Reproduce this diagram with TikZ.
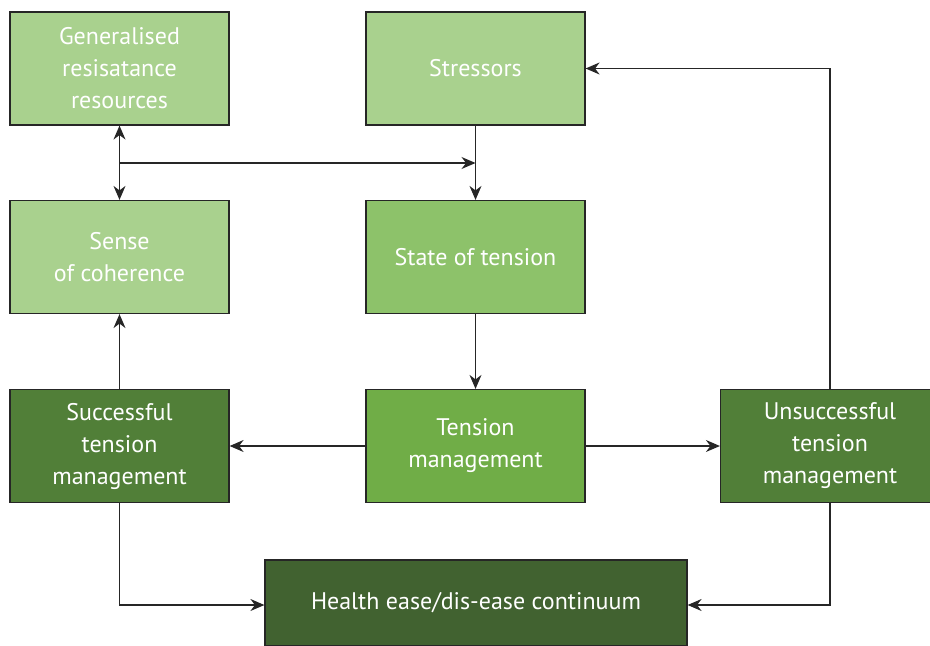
\documentclass[tikz,border=0pt]{standalone}
\usepackage{fontspec}
\setmainfont{PT Sans}
\usetikzlibrary{arrows.meta}

\definecolor{greenA}{HTML}{A9D18E}
\definecolor{greenB}{HTML}{8DC26A}
\definecolor{greenC}{HTML}{70AD47}
\definecolor{greenD}{HTML}{517F38}
\definecolor{greenE}{HTML}{416230}
\definecolor{edge}{HTML}{262626}

\tikzset{
  box/.style={draw=edge, line width=0.6pt, text=white, align=center,
    minimum width=109.5pt, minimum height=56.5pt, inner sep=2pt,
    font=\fontsize{12}{16}\selectfont},
  tip/.style={Stealth[length=7pt,width=6pt]},
  link/.style={draw=edge, line width=0.6pt, -{Stealth[length=7pt,width=6pt]}},
}

\begin{document}
\begin{tikzpicture}[x=0.5pt,y=-0.5pt]
\useasboundingbox (0,0) rectangle (930,646);

\node[box, fill=greenA] (grr) at (119.5,68.5) {Generalised\\resisatance\\resources};
\node[box, fill=greenA] (stress) at (475.5,68.5) {Stressors};
\node[box, fill=greenA] (soc) at (119.5,257) {Sense\\of coherence};
\node[box, fill=greenB] (state) at (475.5,257) {State of tension};
\node[box, fill=greenD] (succ) at (119.5,446) {Successful\\tension\\management};
\node[box, fill=greenC] (tm) at (475.5,446) {Tension\\management};
\node[box, fill=greenD] (unsucc) at (830,446) {Unsuccessful\\tension\\management};
\node[box, fill=greenE, minimum width=211pt, minimum height=43pt] (health) at (476,603) {Health ease/dis-ease continuum};

\coordinate (j) at (120,163);
\coordinate (jr) at (stress.south |- j);

\draw[link, {Stealth[length=7pt,width=6pt]}-{Stealth[length=7pt,width=6pt]}] (grr) -- (soc);
\draw[link] (j) -- (jr);
\draw[link] (stress) -- (state);
\draw[link] (state) -- (tm);
\draw[link] (tm) -- (succ);
\draw[link] (tm) -- (unsucc);
\draw[link] (succ) -- (soc);
\draw[link] (succ.south) |- (health.west |- 0,605);
\draw[link] (unsucc.south) |- (health.east |- 0,605);
\draw[link] (unsucc.north) |- (stress.east);
\end{tikzpicture}
\end{document}
